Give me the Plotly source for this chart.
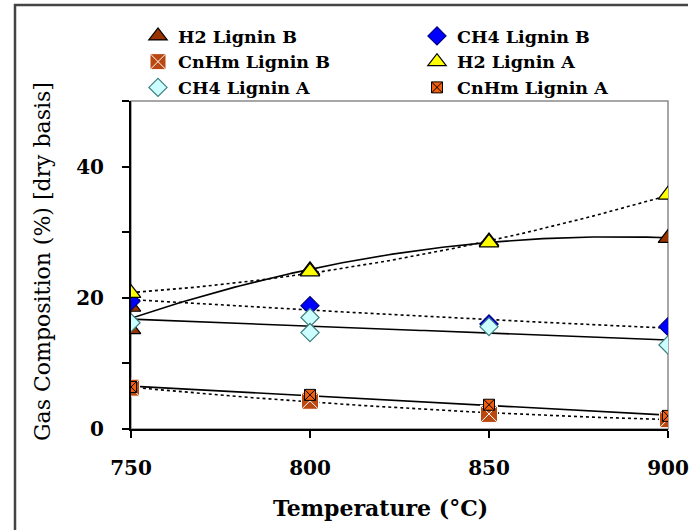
import numpy as np
import plotly.graph_objects as go

# ---- data ----
h2_b_x = [750, 750, 800, 850, 900]
h2_b_y = [18.6, 15.2, 24.2, 28.6, 29.1]
ch4_b_x = [750, 800, 850, 900]
ch4_b_y = [19.5, 18.8, 16.0, 15.6]
cnhm_b_x = [750, 800, 850, 900]
cnhm_b_y = [6.3, 4.3, 2.3, 1.5]
h2_a_x = [750, 800, 850, 900]
h2_a_y = [20.7, 24.0, 28.4, 35.7]
ch4_a_x = [750, 800, 800, 850, 900]
ch4_a_y = [16.2, 17.0, 14.7, 15.6, 12.8]
cnhm_a_x = [750, 800, 850, 900]
cnhm_a_y = [6.4, 5.2, 3.7, 2.0]

x_ticks = [750, 800, 850, 900]
y_ticks = [0, 10, 20, 30, 40, 50]
y_ticktext = ["0", "", "20", "", "40", ""]

SERIF = "DejaVu Serif"

fig = go.Figure()

# trendlines (least-squares fits of each series, as in the original chart)
def trend(xs, ys, deg, dash):
    c = np.polyfit(xs, ys, deg)
    xx = np.linspace(750, 900, 151)
    fig.add_trace(go.Scatter(x=xx, y=np.polyval(c, xx), mode="lines",
                             line=dict(color="black", width=1.6, dash=dash),
                             showlegend=False, hoverinfo="skip"))

trend(h2_b_x, h2_b_y, 2, "solid")
trend(h2_a_x, h2_a_y, 2, "dot")
trend(ch4_b_x, ch4_b_y, 2, "dot")
trend(ch4_a_x, ch4_a_y, 1, "solid")
trend(cnhm_b_x, cnhm_b_y, 2, "dot")
trend(cnhm_a_x, cnhm_a_y, 1, "solid")

def pts(name, xs, ys, symbol, size, fill, line_color, legend, rank, line_w=1.2):
    fig.add_trace(go.Scatter(x=xs, y=ys, mode="markers", name=name,
                             legend=legend, legendrank=rank,
                             marker=dict(symbol=symbol, size=size, color=fill,
                                         line=dict(color=line_color, width=line_w))))

pts("H2 Lignin B", h2_b_x, h2_b_y, "triangle-up", 17, "#993300", "black", "legend", 1)
pts("CH4 Lignin B", ch4_b_x, ch4_b_y, "diamond", 14, "#0000FF", "#000080", "legend2", 1)
pts("CnHm Lignin B", cnhm_b_x, cnhm_b_y, "square-x", 17, "#B9470F", "white", "legend", 2, 1)
pts("H2 Lignin A", h2_a_x, h2_a_y, "triangle-up", 17, "#FFFF00", "black", "legend2", 2)
pts("CH4 Lignin A", ch4_a_x, ch4_a_y, "diamond", 14, "#CCFFFF", "#3F7F7F", "legend", 3)
pts("CnHm Lignin A", cnhm_a_x, cnhm_a_y, "square-x", 11, "#F06010", "black", "legend2", 3, 1)

L, R, T, B = 131, 21, 101, 101
PW, PH = 689 - L - R, 530 - T - B

def px_x(p):
    return (p - L) / PW

def px_y(p):
    return (530 - B - p) / PH

legend_font = dict(family=SERIF, size=17.5, color="black", weight="bold")

def legend_at(left, top):
    return dict(orientation="v", x=px_x(left), xanchor="left", y=px_y(top),
                yanchor="top", font=legend_font, bgcolor="rgba(0,0,0,0)",
                itemsizing="trace", traceorder="normal", tracegroupgap=0)

frame_path = "M {x0},{y0} L {x0},{y1} L {x2},{y1}".format(
    x0=px_x(15), y0=px_y(534), y1=px_y(5), x2=px_x(688))

fig.update_layout(
    width=689, height=530,
    margin=dict(l=L, r=R, t=T, b=B, autoexpand=False),
    paper_bgcolor="white", plot_bgcolor="white",
    font=dict(family=SERIF, color="black"),
    showlegend=True,
    legend=legend_at(138, 18),
    legend2=legend_at(417, 18),
    xaxis=dict(range=[750, 900], tickvals=x_ticks, ticks="outside", ticklen=7,
               tickwidth=2, tickcolor="black", showline=True, linecolor="black",
               linewidth=2, showgrid=False, zeroline=False,
               tickfont=dict(family=SERIF, size=20, color="black", weight="bold"),
               ticklabelstandoff=13),
    yaxis=dict(range=[0, 50], tickvals=y_ticks, ticktext=y_ticktext, ticks="outside",
               ticklen=7, tickwidth=2, tickcolor="black", showline=True,
               linecolor="black", linewidth=2, showgrid=False, zeroline=False,
               tickfont=dict(family=SERIF, size=20, color="black", weight="bold"),
               ticklabelstandoff=14),
    shapes=[
        dict(type="rect", xref="paper", yref="paper", x0=0, x1=1, y0=0, y1=1,
             line=dict(color="#8a8a8a", width=1.5), layer="below"),
        dict(type="path", xref="paper", yref="paper", path=frame_path,
             line=dict(color="#444444", width=2.5)),
    ],
    annotations=[
        dict(text="Gas Composition (%) [dry basis]", textangle=-90, showarrow=False,
             xref="paper", yref="paper", x=px_x(42), y=px_y(262),
             xanchor="center", yanchor="middle",
             font=dict(family=SERIF, size=22, color="black")),
        dict(text="Temperature (°C)", showarrow=False, xref="paper", yref="paper",
             x=px_x(380), y=px_y(508), xanchor="center", yanchor="middle",
             font=dict(family=SERIF, size=22, color="black", weight="bold")),
    ],
)

fig.write_html("out.html", config={"displayModeBar": False},
               post_script="document.body.style.margin='0';"
                           "document.body.style.overflow='hidden';")
